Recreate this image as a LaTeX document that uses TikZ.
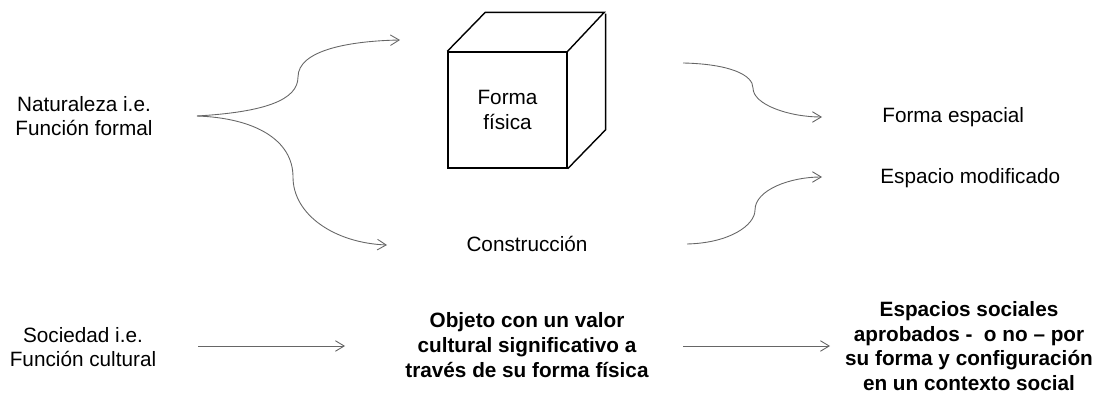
\documentclass[tikz,border=0pt]{standalone}
\usepackage{fontspec}
\setmainfont{Liberation Sans}
\usetikzlibrary{arrows.meta}
\tikzset{
  lbl/.style={align=center,inner sep=0pt,font=\fontsize{11.8}{14}\selectfont},
  blbl/.style={lbl,font=\fontsize{11.8}{14}\selectfont\bfseries},
  flow/.style={draw=black!60,line width=.5pt,-{Straight Barb[length=5pt,width=6pt]}},
  cubo/.style={draw,line width=.8pt}
}
\begin{document}
\begin{tikzpicture}[x=.02cm,y=-.02cm]
\useasboundingbox (0,0) rectangle (1108,394);
% upper row
\node[lbl](nat) at (84,116){Naturaleza i.e.\\Función formal};
\node[cubo,lbl,minimum width=2.38cm,minimum height=2.32cm](fis) at (507.5,110){Forma\\física};
\draw[cubo](fis.north west)--++(38,-39)--++(119,0)--(fis.north east)
  (fis.south east)--++(38,-39)--++(0,-116);
\node[lbl](cons) at (527,244){Construcción};
\node[lbl,anchor=west](fesp) at (882,117){Forma espacial};
\node[lbl,anchor=west](emod) at (880,178){Espacio modificado};
\coordinate(fork) at (197,116);
\coordinate(f1) at (400,40);
\coordinate(f2) at (387,245);
\coordinate(g1) at (683,63);
\coordinate(g2) at (822,117);
\coordinate(h1) at (687,244);
\coordinate(h2) at (822,177);
\draw[flow](fork) .. controls (265,112) and (298,100) .. (298,77) .. controls (298,50) and (350,41) .. (f1);
\draw[flow](fork) .. controls (255,118) and (293,140) .. (293,177) .. controls (293,215) and (335,243) .. (f2);
\draw[flow](g1) .. controls (730,64) and (753,75) .. (753,88) .. controls (753,105) and (790,117) .. (g2);
\draw[flow](h1) .. controls (730,243) and (755,225) .. (755,210) .. controls (755,190) and (790,177) .. (h2);
% lower row
\node[lbl](soc) at (83,347){Sociedad i.e.\\Función cultural};
\node[blbl](obj) at (527,345){Objeto con un valor\\cultural significativo a\\través de su forma física};
\node[blbl](esp) at (969,346){Espacios sociales\\aprobados -~ o no – por\\su forma y configuración\\en un contexto social};
\coordinate(s1) at (198,346);
\coordinate(s2) at (345,346);
\coordinate(o1) at (683,346);
\coordinate(o2) at (830,346);
\draw[flow](s1)--(s2);
\draw[flow](o1)--(o2);
\end{tikzpicture}
\end{document}
